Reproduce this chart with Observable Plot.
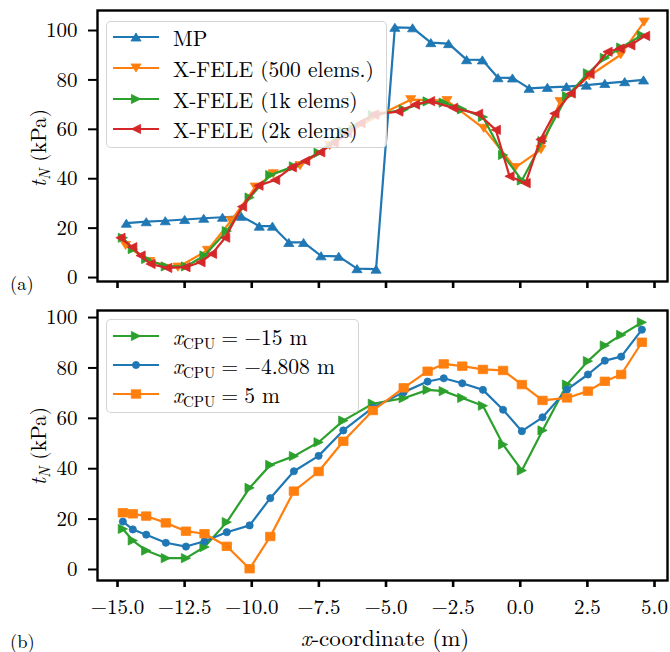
<!DOCTYPE html>
<html><head><meta charset="utf-8">
<script src="https://cdn.jsdelivr.net/npm/d3@7"></script>
<script src="https://cdn.jsdelivr.net/npm/@observablehq/plot@0.6"></script>
<style>
body{margin:0;background:#fff;}
#wrap{position:relative;width:670px;height:652px;font-family:"Latin Modern Roman","Liberation Serif",serif;color:#000;overflow:hidden;}
#wrap > svg{position:absolute;left:0;}
.lbl{position:absolute;white-space:nowrap;line-height:1;}
.legend{position:absolute;background:rgba(255,255,255,0.8);border:1.3px solid rgba(204,204,204,0.85);border-radius:5px;box-sizing:border-box;}
.legend .row{position:absolute;left:0;height:28px;}
.legend .row > svg{position:absolute;left:6px;top:4px;}
.legend .row > .txt{position:absolute;left:66px;top:0;line-height:28px;white-space:nowrap;}
sub{font-size:0.7em;vertical-align:-0.28em;line-height:0;}
.eq{margin:0 0.28em;}
</style>
</head><body><div id="wrap"></div>
<script>
// ---------------- data ----------------
const xTicks = [-15, -12.5, -10, -7.5, -5, -2.5, 0, 2.5, 5];
const yTicks = [0, 20, 40, 60, 80, 100];

// panel (a): MP
const mpX = [-14.67,-13.93,-13.22,-12.5,-11.79,-11.09,-10.39,-9.72,-9.23,-8.62,-8.07,-7.42,-6.76,-6.08,-5.37,-4.67,-4.01,-3.33,-2.67,-2.0,-1.41,-0.83,-0.29,0.33,1.01,1.72,2.46,3.15,3.89,4.59];
const mpY = [22.0,22.6,23.0,23.5,24.0,24.4,24.8,20.8,20.8,14.2,14.2,8.8,8.6,3.6,3.4,101.3,101.1,95.1,94.7,88.2,88.1,80.9,80.8,76.6,77.0,77.3,77.9,78.6,79.3,80.0];

// panel (a): X-FELE 500 elems
const fe500X = [-14.7,-13.8,-12.75,-11.65,-10.77,-9.87,-9.2,-8.2,-7.1,-6.2,-5.3,-4.08,-2.73,-1.36,-0.19,0.77,1.48,2.57,3.74,4.61];
const fe500Y = [13.0,6.5,4.2,11.0,23.0,36.6,42.0,45.3,53.4,60.0,65.5,72.0,71.6,60.4,44.5,51.8,71.2,81.6,90.2,103.4];

// panel (a): X-FELE 2k elems
const fe2kX = [-14.89,-14.45,-14.14,-13.77,-13.15,-12.47,-11.91,-11.48,-10.99,-10.36,-9.75,-9.13,-8.51,-8.01,-7.45,-6.95,-6.45,-5.95,-5.45,-4.54,-3.92,-3.36,-2.5,-1.57,-0.91,-0.4,0.2,0.75,1.27,1.88,2.58,3.25,3.7,4.1,4.65];
const fe2kY = [16.1,12.3,8.9,5.5,3.9,4.2,6.2,9.6,16.1,28.7,37.2,39.5,44.6,47.2,50.7,54.5,58.5,62.5,66.0,67.2,70.0,71.4,68.7,66.3,59.8,41.0,38.2,55.9,66.4,74.5,82.4,91.4,92.7,94.0,97.8];

// panel (b): common x positions; X-FELE 1k elems in (a) equals x_CPU = -15 m in (b)
const cpuX = [-14.8,-14.43,-13.93,-13.2,-12.45,-11.76,-10.93,-10.08,-9.31,-8.43,-7.51,-6.59,-5.49,-4.34,-3.45,-2.85,-2.16,-1.39,-0.64,0.06,0.83,1.74,2.52,3.15,3.76,4.53];
const cpuM15Y = [16.1,11.5,7.5,4.5,4.5,8.9,18.8,32.4,41.5,45.0,50.5,59.1,65.8,68.0,71.3,70.8,68.1,65.0,49.6,39.3,55.2,73.4,82.7,88.9,93.1,98.1];
const cpuM4808Y = [19.0,15.9,13.8,10.6,9.1,11.2,14.8,17.5,28.3,39.0,45.1,55.2,64.2,70.4,74.6,75.9,73.9,71.3,63.4,54.9,60.4,71.4,77.4,82.9,84.5,95.2];
const cpu5Y = [22.5,22.1,21.2,18.5,15.2,14.2,9.2,0.3,13.1,31.1,38.9,50.9,63.1,72.1,78.7,81.6,80.7,79.4,79.0,73.4,67.1,68.1,70.8,74.7,77.4,90.2];

const legendA = ["MP", "X-FELE (500 elems.)", "X-FELE (1k elems)", "X-FELE (2k elems)"];
const legendB = ["\u221215 m", "\u22124.808 m", "5 m"];

// ---------------- helpers ----------------
const C = {blue:"#1f77b4", orange:"#ff7f0e", green:"#2ca02c", red:"#d62728"};
function tri(dir, kw, kh) {
  return {draw(ctx, size) {
    const r = Math.sqrt(size / Math.PI), w = r * kw, h = r * kh;
    if (dir === "up") { ctx.moveTo(0, -h); ctx.lineTo(w, h); ctx.lineTo(-w, h); }
    else if (dir === "down") { ctx.moveTo(0, h); ctx.lineTo(w, -h); ctx.lineTo(-w, -h); }
    else if (dir === "right") { ctx.moveTo(w, 0); ctx.lineTo(-w, -h); ctx.lineTo(-w, h); }
    else { ctx.moveTo(-w, 0); ctx.lineTo(w, -h); ctx.lineTo(w, h); }
    ctx.closePath();
  }};
}
const symUp = tri("up", 1.1, 0.88), symDown = tri("down", 1.1, 0.88);
const symRight = tri("right", 1.0, 1.0), symLeft = tri("left", 1.0, 1.0);
const symSquare = {draw(ctx, size){ const r = Math.sqrt(size/Math.PI); const w = r*1.0, h = r*0.9; ctx.rect(-w, -h, 2*w, 2*h); }};
const symCircle = {draw(ctx, size){ const r = Math.sqrt(size/Math.PI); ctx.moveTo(r,0); ctx.arc(0,0,r,0,2*Math.PI); ctx.closePath(); }};

const series = (xs, ys) => xs.map((x, i) => ({x, y: ys[i]}));
function marks(data, color, symbol, r) {
  return [
    Plot.line(data, {x: "x", y: "y", stroke: color, strokeWidth: 2.2}),
    Plot.dot(data, {x: "x", y: "y", symbol, r, fill: color, stroke: color, strokeWidth: 0.8})
  ];
}
const fmtX = d => d.toFixed(1).replace("-", "\u2212");
const xDomain = [-15.745, 5.484];
const common = {width: 670, marginLeft: 97, marginRight: 3, style: {fontFamily: "'Latin Modern Roman', 'Liberation Serif', serif", fontSize: "21px", color: "#000", background: "transparent", overflow: "visible"}};

// ---------------- panel (a) ----------------
const plotA = Plot.plot({
  ...common, height: 296, marginTop: 10, marginBottom: 15,
  x: {domain: xDomain},
  y: {domain: [-1.6, 108.1]},
  marks: [
    ...marks(series(mpX, mpY), C.blue, symUp, 4.6),
    ...marks(series(fe500X, fe500Y), C.orange, symDown, 4.6),
    ...marks(series(cpuX, cpuM15Y), C.green, symRight, 4.6),
    ...marks(series(fe2kX, fe2kY), C.red, symLeft, 4.6),
    Plot.frame({stroke: "#000", strokeWidth: 2.4}),
    Plot.axisX({ticks: xTicks, tickSize: 7, strokeWidth: 2.6, tickFormat: () => "", label: null}),
    Plot.axisY({ticks: yTicks, tickSize: 9, strokeWidth: 2, tickPadding: 11, fontSize: 21, label: null})
  ]
});
plotA.style.top = "0px";

// ---------------- panel (b) ----------------
const plotB = Plot.plot({
  ...common, height: 356, marginTop: 14, marginBottom: 72,
  x: {domain: xDomain},
  y: {domain: [-4.37, 102.8]},
  marks: [
    ...marks(series(cpuX, cpuM15Y), C.green, symRight, 4.6),
    ...marks(series(cpuX, cpuM4808Y), C.blue, symCircle, 3.6),
    ...marks(series(cpuX, cpu5Y), C.orange, symSquare, 4.7),
    Plot.frame({stroke: "#000", strokeWidth: 2.4}),
    Plot.axisX({ticks: xTicks, tickSize: 7, strokeWidth: 2.6, tickPadding: 12, fontSize: 21, tickFormat: fmtX, label: null}),
    Plot.axisY({ticks: yTicks, tickSize: 9, strokeWidth: 2, tickPadding: 11, fontSize: 21, label: null})
  ]
});
plotB.style.top = "296px";

const wrap = document.getElementById("wrap");
wrap.appendChild(plotA);
wrap.appendChild(plotB);

// ---------------- labels & legends ----------------
function addLabel(html, css) {
  const d = document.createElement("div");
  d.className = "lbl"; d.innerHTML = html; Object.assign(d.style, css);
  wrap.appendChild(d); return d;
}
const yLab = "<i>t</i><sub><i>N</i></sub> (kPa)";
const yCss = {fontSize: "21.5px"};
addLabel(yLab, {...yCss, left: "38px", top: "148px", transform: "translate(-50%,-50%) rotate(-90deg)"});
addLabel(yLab, {...yCss, left: "38px", top: "446px", transform: "translate(-50%,-50%) rotate(-90deg)"});
addLabel("(a)", {left: "10px", top: "282px", fontSize: "18.5px", transform: "translateY(-50%)"});
addLabel("(b)", {left: "10px", top: "640px", fontSize: "18.5px", transform: "translateY(-50%)"});
addLabel("<i>x</i>-coordinate (m)", {left: "385px", top: "636px", fontSize: "23px", transform: "translate(-50%,-50%)"});

function handle(color, symbol, r) {
  const p = d3.path(); symbol.draw(p, r * r * Math.PI);
  return `<svg width="46" height="20" viewBox="-23 -10 46 20"><line x1="-23" x2="23" y1="0" y2="0" stroke="${color}" stroke-width="2.2"/><path d="${p}" fill="${color}" stroke="${color}" stroke-width="0.8"/></svg>`;
}
function legend(box, rows) {
  const L = document.createElement("div");
  L.className = "legend";
  Object.assign(L.style, box);
  rows.forEach(([html, color, sym, r, y]) => {
    const row = document.createElement("div");
    row.className = "row"; row.style.top = (y - 14) + "px";
    row.innerHTML = handle(color, sym, r) + `<span class="txt">${html}</span>`;
    L.appendChild(row);
  });
  wrap.appendChild(L);
}
legend({left: "106px", top: "21px", width: "281px", height: "127px", fontSize: "21.5px"}, [
  [legendA[0], C.blue, symUp, 4.6, 15],
  [legendA[1], C.orange, symDown, 4.6, 46],
  [legendA[2], C.green, symRight, 4.6, 77],
  [legendA[3], C.red, symLeft, 4.6, 107]
]);
const xc = "<i>x</i><sub>CPU</sub><span class='eq'>=</span>";
legend({left: "106px", top: "319px", width: "253px", height: "94px", fontSize: "21.5px"}, [
  [xc + legendB[0], C.green, symRight, 4.6, 16],
  [xc + legendB[1], C.blue, symCircle, 3.6, 45],
  [xc + legendB[2], C.orange, symSquare, 4.7, 74]
]);
</script>
</body></html>
